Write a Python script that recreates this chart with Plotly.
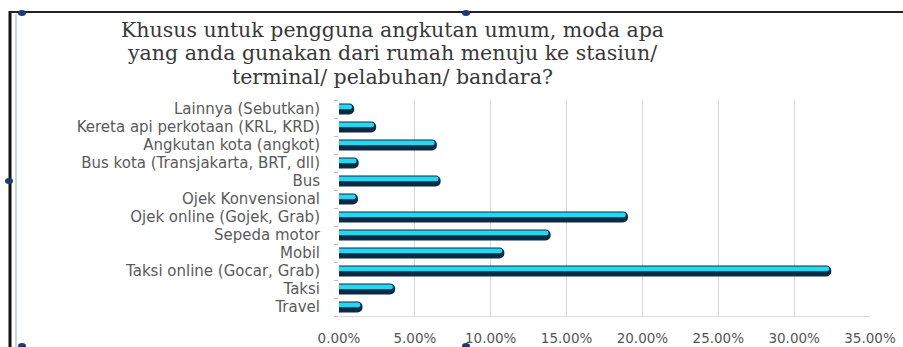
import plotly.graph_objects as go

# Data (top-to-bottom order as in the chart)
categories = [
    "Lainnya (Sebutkan)",
    "Kereta api perkotaan (KRL, KRD)",
    "Angkutan kota (angkot)",
    "Bus kota (Transjakarta, BRT, dll)",
    "Bus",
    "Ojek Konvensional",
    "Ojek online (Gojek, Grab)",
    "Sepeda motor",
    "Mobil",
    "Taksi online (Gocar, Grab)",
    "Taksi",
    "Travel",
]
values = [1.0, 2.45, 6.45, 1.3, 6.7, 1.25, 19.05, 13.95, 10.9, 32.45, 3.7, 1.55]
x_ticks = [0, 5, 10, 15, 20, 25, 30, 35]
x_tick_labels = ["0.00%", "5.00%", "10.00%", "15.00%", "20.00%", "25.00%", "30.00%", "35.00%"]
title_lines = [
    "Khusus untuk pengguna angkutan umum, moda apa",
    "yang anda gunakan dari rumah menuju ke stasiun/",
    "terminal/ pelabuhan/ bandara?",
]

# plotly draws the first category at the bottom, so reverse
cats_plot = categories[::-1]
vals_plot = values[::-1]

W, H = 903, 347
L, R, T, B = 339, 33, 100, 31
PW, PH = W - L - R, H - T - B


def px(x):
    return (x - L) / PW


def py(y):
    return (H - B - y) / PH


fig = go.Figure()
fig.add_trace(go.Bar(
    y=cats_plot, x=vals_plot, orientation="h",
    width=0.62, offset=-0.31,
    marker=dict(color="#0b2a45", cornerradius=5, line=dict(width=0)),
    hoverinfo="skip", showlegend=False,
))
fig.add_trace(go.Bar(
    y=cats_plot, x=[v - 0.15 for v in vals_plot], orientation="h",
    width=0.27, offset=-0.02,
    marker=dict(color="#22d8f2", cornerradius=3, line=dict(width=0)),
    hoverinfo="skip", showlegend=False,
))

shapes = [
    # outer frame (left thick dark line, top line, light blue inner line)
    dict(type="line", xref="paper", yref="paper", x0=px(10), x1=px(10), y0=py(11), y1=py(347),
         line=dict(color="#111111", width=3)),
    dict(type="line", xref="paper", yref="paper", x0=px(9), x1=px(903), y0=py(12), y1=py(12),
         line=dict(color="#222222", width=2)),
    dict(type="line", xref="paper", yref="paper", x0=px(16), x1=px(16), y0=py(14), y1=py(347),
         line=dict(color="#c9d6ea", width=2)),
]
# selection handles
for hx, hy in [(22, 13), (466, 13), (9, 181), (22, 346), (466, 346)]:
    shapes.append(dict(type="circle", xref="paper", yref="paper",
                       x0=px(hx - 4), x1=px(hx + 4), y0=py(hy - 3), y1=py(hy + 3),
                       fillcolor="#1d3a78", line=dict(width=0)))

annotations = []
for line, yc in zip(title_lines, [30, 53, 77]):
    annotations.append(dict(
        text=line, xref="paper", yref="paper", x=px(392), y=py(yc),
        xanchor="center", yanchor="middle", showarrow=False,
        font=dict(family="DejaVu Serif", size=20.5, color="#383838"),
    ))

fig.update_layout(
    width=W, height=H,
    margin=dict(l=L, r=R, t=T, b=B, pad=0, autoexpand=False),
    paper_bgcolor="white", plot_bgcolor="white",
    barmode="overlay",
    shapes=shapes, annotations=annotations,
    xaxis=dict(
        range=[0, 35], tickmode="array", tickvals=x_ticks, ticktext=x_tick_labels,
        showgrid=True, gridcolor="#d9d9d9", gridwidth=1,
        zeroline=False, showline=True, linecolor="#d9d9d9",
        ticks="outside", ticklen=10, tickcolor="rgba(0,0,0,0)",
        tickfont=dict(family="DejaVu Sans", size=13.5, color="#555555"),
        automargin=False, fixedrange=True,
    ),
    yaxis=dict(
        categoryorder="array", categoryarray=cats_plot,
        tickmode="linear", tick0=0, dtick=1,
        showgrid=False, zeroline=False, showline=False,
        ticks="outside", tickson="boundaries", ticklen=4, tickcolor="#bfbfbf",
        tickfont=dict(family="DejaVu Sans", size=15, color="#5a5a5a"),
        ticklabelstandoff=18, automargin=False, fixedrange=True,
    ),
)

fig.write_html("out.html")
